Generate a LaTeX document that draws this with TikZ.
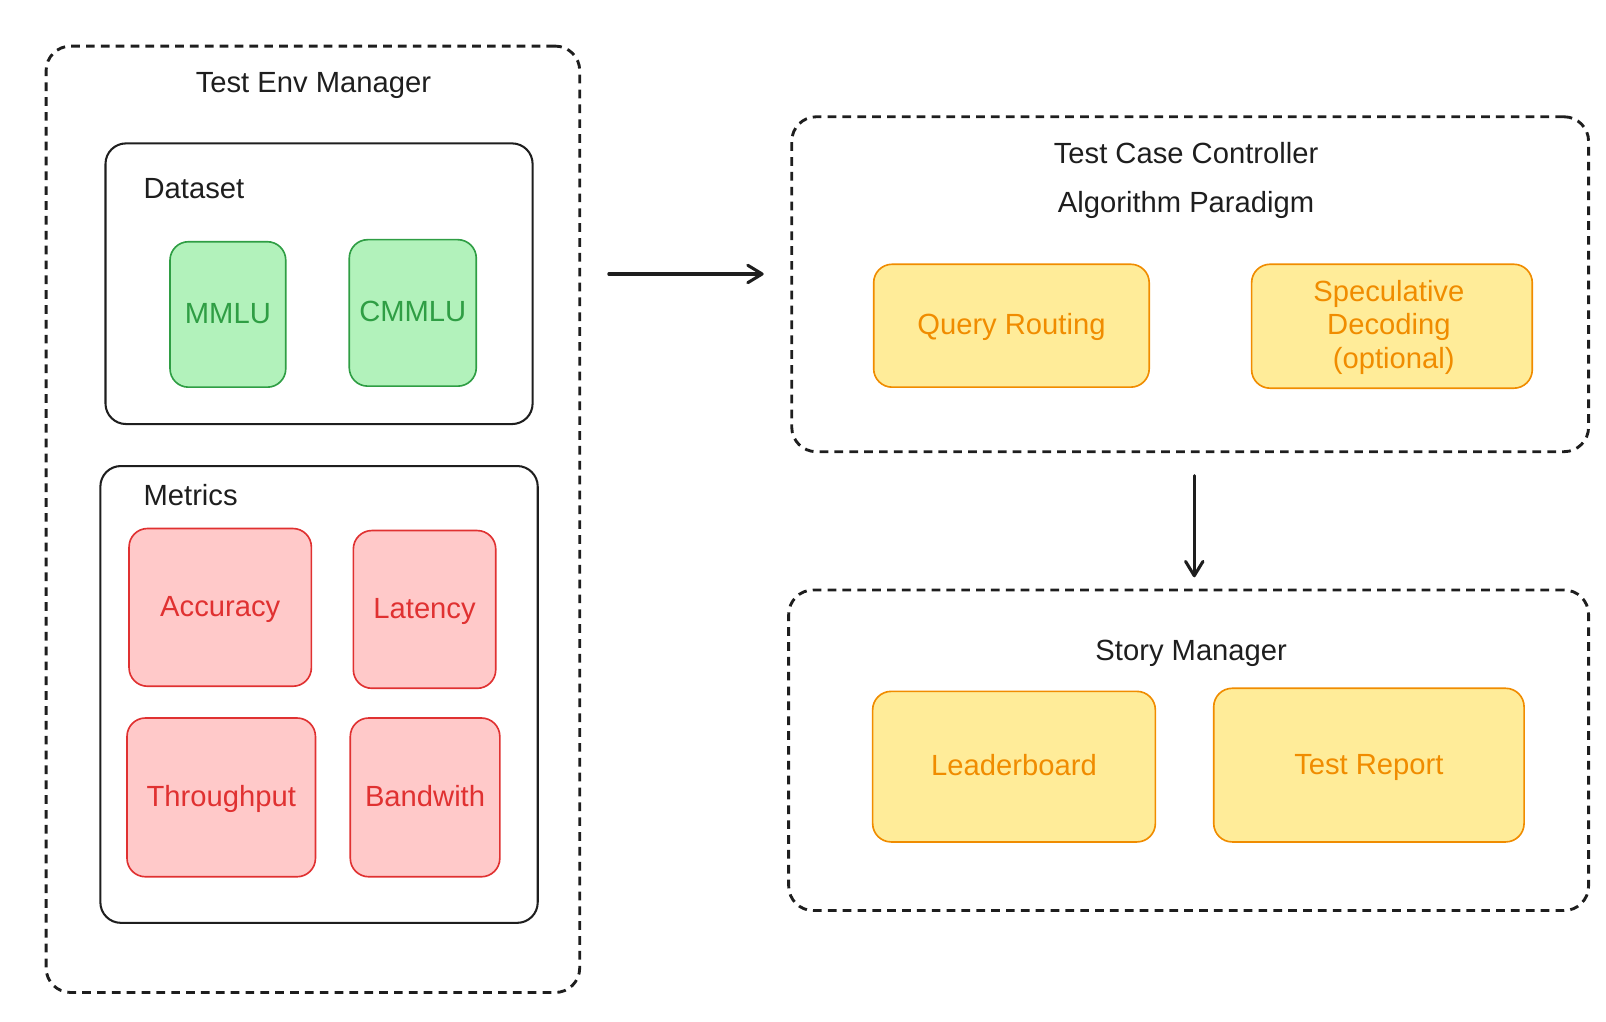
\documentclass[tikz,border=0pt]{standalone}
\usepackage{fontspec}
\setmainfont{Liberation Sans}
\usetikzlibrary{arrows.meta}
\definecolor{ink}{HTML}{1E1E1E}
\definecolor{gfill}{HTML}{B2F2BB}
\definecolor{gline}{HTML}{2F9E44}
\definecolor{rfill}{HTML}{FFC9C9}
\definecolor{rline}{HTML}{E03131}
\definecolor{yfill}{HTML}{FFEC99}
\definecolor{yline}{HTML}{F08C00}
\tikzset{
  fnt/.style={font=\fontsize{28.5}{33}\selectfont},
  lbl/.style={fnt, text=ink, inner sep=0pt},
  sz/.style 2 args={minimum width=#1pt, minimum height=#2pt},
  container/.style={draw=ink, line width=2.8pt, dash pattern=on 8.5pt off 6pt, rounded corners=24pt, inner sep=0pt},
  panel/.style={draw=ink, line width=2pt, rounded corners=20pt, inner sep=0pt},
  card/.style={fnt, line width=1.6pt, rounded corners=18pt, inner sep=0pt, text height=20.5pt, text depth=2.9pt, align=center},
  gcard/.style={card, draw=gline, fill=gfill, text=gline},
  rcard/.style={card, draw=rline, fill=rfill, text=rline},
  ycard/.style={card, draw=yline, fill=yfill, text=yline},
  arr/.style={draw=ink, line width=3pt, line cap=round, line join=round, -{Straight Barb[length=14pt,width=17pt,line cap=round,line join=round]}}
}
\begin{document}
\begin{tikzpicture}[x=1pt, y=-1pt]
\useasboundingbox (0,0) rectangle (1568,997);
% Test Env Manager
\node[container, sz={521}{924}] (tem) at (305.5,507) {};
\node[lbl, anchor=base] (teml) at (306,90) {Test Env Manager};
\node[panel, sz={417}{274}] (ds) at (311.5,277) {};
\node[lbl, anchor=base west] (dsl) at (140,194) {Dataset};
\node[gcard, sz={113}{142}] (mmlu) at (222.5,307) {MMLU};
\node[gcard, sz={124}{143}] (cmmlu) at (403,305.5) {CMMLU};
\node[panel, sz={427}{446}] (mt) at (311.5,678) {};
\node[lbl, anchor=base west] (mtl) at (140,494) {Metrics};
\node[rcard, sz={178}{154}] (acc) at (215,593) {Accuracy};
\node[rcard, sz={139}{154}] (lat) at (414.5,595) {Latency};
\node[rcard, sz={184}{155}] (thr) at (216,778.5) {Throughput};
\node[rcard, sz={146}{155}] (bw) at (415,778.5) {Bandwith};
% Test Case Controller
\node[container, sz={778}{327}] (tcc) at (1162,277.5) {};
\node[lbl, anchor=base] (tccl) at (1158,160) {Test Case Controller};
\node[lbl, anchor=base] (apl) at (1158,207) {Algorithm Paradigm};
\node[ycard, sz={269}{120}] (qr) at (987.5,318) {Query Routing};
\node[ycard, sz={274}{121}, text height=, text depth=] (sd) at (1359,318.5) {};
\node[fnt, text=yline, inner sep=0pt, align=center] (sdl) at (1356,319.5) {Speculative\\Decoding\\\phantom{(}(optional)};
% Story Manager
\node[container, sz={781}{313}] (sm) at (1160.5,732.5) {};
\node[lbl, anchor=base] (sml) at (1163,645) {Story Manager};
\node[ycard, sz={276}{147}] (lb) at (990,748.5) {Leaderboard};
\node[ycard, sz={303}{150}] (tr) at (1336.5,747) {Test Report};
% connectors
\draw[arr, shorten <=27pt, shorten >=26pt] ([yshift=10pt]tem.east |- tcc.west) -- ([yshift=10pt]tcc.west);
\draw[arr, shorten <=22pt, shorten >=11pt] ([xshift=4pt]tcc.south) -- ([xshift=4pt]tcc.south |- sm.north);
\end{tikzpicture}
\end{document}
